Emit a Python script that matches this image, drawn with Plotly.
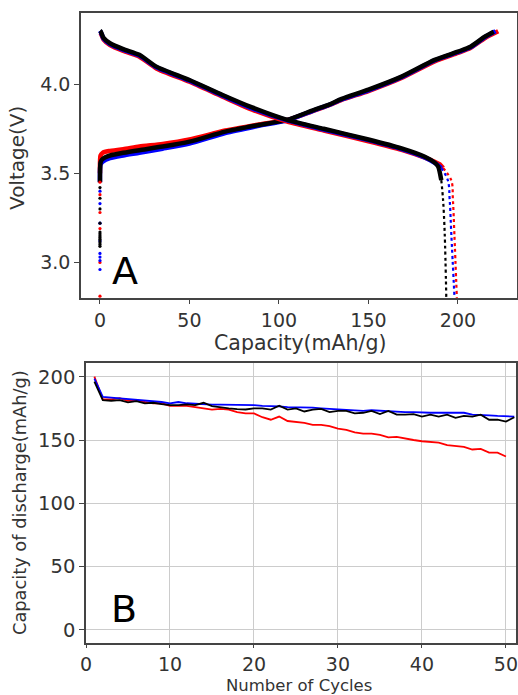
import plotly.graph_objects as go

# ---------------- Panel A : voltage profiles ----------------
# charge curves (capacity mAh/g, voltage V)
chg_cap_red = [0, 0.3, 1.5, 5, 13, 22, 35, 50, 70, 88, 104.6, 120, 128, 135, 150, 168.5, 187, 200, 207, 215, 222.5]
chg_v_red = [3.50, 3.60, 3.615, 3.625, 3.635, 3.65, 3.665, 3.69, 3.74, 3.773, 3.80, 3.853, 3.882, 3.912, 3.962, 4.035, 4.128, 4.176, 4.204, 4.258, 4.297]
chg_cap_blue = [0, 0.3, 1.5, 5.6, 13, 22, 35, 50, 70, 88, 104.6, 120, 128, 135, 150, 168.5, 187, 200, 207, 215, 221]
chg_v_blue = [3.45, 3.55, 3.565, 3.585, 3.60, 3.615, 3.638, 3.667, 3.726, 3.765, 3.797, 3.855, 3.884, 3.915, 3.966, 4.04, 4.134, 4.18, 4.207, 4.264, 4.297]
chg_cap_black = [0, 0.3, 1, 3, 5.6, 13, 22, 35, 50, 70, 88, 104.6, 120, 128, 135, 150, 168.5, 187, 200, 207, 215, 220]
chg_v_black = [3.45, 3.56, 3.575, 3.59, 3.60, 3.615, 3.63, 3.65, 3.678, 3.734, 3.77, 3.80, 3.858, 3.886, 3.918, 3.97, 4.043, 4.137, 4.183, 4.21, 4.267, 4.295]
# sparse points at the very start of charge (capacity 0)
start_v_red = [2.81, 3.00, 3.19, 3.28, 3.38, 3.45]
start_v_blue = [2.96, 3.01, 3.03, 3.05, 3.12, 3.22, 3.33, 3.40]
start_v_black = [3.09, 3.10, 3.11, 3.12, 3.13, 3.14, 3.15, 3.16, 3.17, 3.22, 3.30, 3.36, 3.42]

# discharge curves
dis_cap_red = [0, 0.5, 2, 5.6, 13, 22, 31.5, 50, 68.5, 85, 104.6, 125, 150, 168.5, 181.5, 187, 190, 191.7]
dis_v_red = [4.29, 4.285, 4.25, 4.22, 4.187, 4.155, 4.089, 4.014, 3.93, 3.857, 3.79, 3.74, 3.68, 3.632, 3.588, 3.565, 3.55, 3.53]
dis_cap_blue = [0, 0.5, 2, 5.6, 13, 22, 31.5, 50, 68.5, 85, 104.6, 125, 150, 168.5, 181.5, 187, 189.5, 190.7]
dis_v_blue = [4.30, 4.292, 4.256, 4.226, 4.193, 4.161, 4.095, 4.02, 3.936, 3.864, 3.797, 3.746, 3.686, 3.636, 3.589, 3.558, 3.54, 3.53]
dis_cap_black = [0, 0.5, 2, 5.6, 13, 22, 31.5, 50, 68.5, 85, 104.6, 125, 150, 168.5, 181.5, 187, 189, 190.7]
dis_v_black = [4.30, 4.295, 4.26, 4.23, 4.197, 4.165, 4.099, 4.024, 3.94, 3.87, 3.80, 3.75, 3.69, 3.64, 3.593, 3.56, 3.537, 3.462]
# end-of-discharge tails
tail_cap_red = [191.7, 196.3, 197.2, 198.0, 199.4]
tail_v_red = [3.53, 3.46, 3.35, 3.16, 2.80]
tail_cap_blue = [190.7, 194.4, 195.4, 196.3, 198.1]
tail_v_blue = [3.53, 3.46, 3.35, 3.16, 2.80]
tail_cap_black = [190.7, 191.7, 192.6, 193.5]
tail_v_black = [3.462, 3.35, 3.164, 2.80]

# ---------------- Panel B : cycling ----------------
cycles_red = list(range(1, 51))
cap_red = [200, 182, 182, 183, 181, 181.5, 180, 179, 179, 177, 177, 177, 176, 175, 174, 174.5, 174, 172, 171, 171,
           168, 166, 168.5, 165, 164.5, 163.5, 162, 162, 161, 159, 158, 156, 155, 155, 154, 152, 152.5, 151, 150, 149,
           148.5, 148, 146, 145, 144.5, 142.5, 143, 140, 140, 137]
cycles_blue = list(range(1, 52))
cap_blue = [198.5, 184, 183.5, 183, 182, 182, 181.5, 181, 180, 179, 180, 179, 178.5, 178.5, 178, 178, 178, 177.5, 177.5, 177.5,
            177, 177, 176.5, 176, 176, 175.5, 175.5, 175, 174.5, 174, 174, 173.5, 173, 173.5, 173, 172.5, 172, 172, 172, 171.5,
            171.5, 171.5, 171.5, 171, 171.5, 170, 170, 169.5, 169, 168.5, 168.5]
cycles_black = list(range(1, 52))
cap_black = [196, 181.5, 181, 181.5, 179.7, 180.7, 178.9, 179.4, 178.4, 177.6, 177.6, 178.1, 177.6, 179.4, 176.8, 175.7, 174.9, 174.4, 174.1, 174.9,
             175, 174, 177, 174, 175, 172.5, 174, 174.5, 172, 173, 173, 171, 171.5, 173, 170.5, 173, 170, 170, 170.5, 168.5,
             170, 168.5, 170, 167.5, 169, 168.5, 170, 166, 166, 164.5, 168]

RED, BLUE, BLACK = "#ff0000", "#0000ff", "#000000"
FONT = "DejaVu Sans"

fig = go.Figure()

# Panel A traces (red first, then blue, black on top)
for cx, vy, col in [(chg_cap_red, chg_v_red, RED), (chg_cap_blue, chg_v_blue, BLUE), (chg_cap_black, chg_v_black, BLACK)]:
    fig.add_trace(go.Scatter(x=cx, y=vy, mode="lines", line=dict(color=col, width=4.5, shape="spline", smoothing=0.6),
                             xaxis="x", yaxis="y", showlegend=False))
for cx, vy, col in [(dis_cap_red, dis_v_red, RED), (dis_cap_blue, dis_v_blue, BLUE), (dis_cap_black, dis_v_black, BLACK)]:
    fig.add_trace(go.Scatter(x=cx, y=vy, mode="lines", line=dict(color=col, width=4.5, shape="spline", smoothing=0.6),
                             xaxis="x", yaxis="y", showlegend=False))
for cx, vy, col in [(tail_cap_red, tail_v_red, RED), (tail_cap_blue, tail_v_blue, BLUE), (tail_cap_black, tail_v_black, BLACK)]:
    fig.add_trace(go.Scatter(x=cx, y=vy, mode="lines", line=dict(color=col, width=2.2, dash="dot", shape="spline"),
                             xaxis="x", yaxis="y", showlegend=False))
for vy, col in [(start_v_red, RED), (start_v_blue, BLUE), (start_v_black, BLACK)]:
    fig.add_trace(go.Scatter(x=[0] * len(vy), y=vy, mode="markers", marker=dict(color=col, size=3.2),
                             xaxis="x", yaxis="y", showlegend=False))

# Panel B traces
for cx, cy, col in [(cycles_red, cap_red, RED), (cycles_blue, cap_blue, BLUE), (cycles_black, cap_black, BLACK)]:
    fig.add_trace(go.Scatter(x=cx, y=cy, mode="lines", line=dict(color=col, width=1.8),
                             xaxis="x2", yaxis="y2", showlegend=False))

W, H = 518, 695


def axis_common(size, ticklen=5):
    return dict(showline=True, mirror=True, linecolor="#444444", linewidth=1.6, ticks="outside", ticklen=ticklen,
                tickwidth=1.2, tickcolor="#444444", zeroline=False, automargin=False,
                ticklabeloverflow="allow",
                tickfont=dict(family=FONT, size=size, color="#333333"))


fig.update_layout(
    width=W, height=H, margin=dict(l=0, r=0, t=0, b=0),
    paper_bgcolor="white", plot_bgcolor="white", showlegend=False,
    xaxis=dict(domain=[81 / W, 517 / W], range=[-10.6, 233], tickvals=[0, 50, 100, 150, 200],
               showgrid=False, anchor="y", **axis_common(19, 4)),
    yaxis=dict(domain=[1 - 298 / H, 1 - 13 / H], range=[2.8, 4.4], tickvals=[3.0, 3.5, 4.0],
               ticktext=["3.0", "3.5", "4.0"], showgrid=False, anchor="x", **axis_common(19)),
    xaxis2=dict(domain=[86 / W, 516 / W], range=[0, 51.2], tickvals=[0, 10, 20, 30, 40, 50],
                showgrid=True, gridcolor="#cccccc", gridwidth=1, anchor="y2", **axis_common(19, 3)),
    yaxis2=dict(domain=[1 - 643 / H, 1 - 363 / H], range=[-10.3, 210.8], tickvals=[0, 50, 100, 150, 200],
                showgrid=True, gridcolor="#cccccc", gridwidth=1, anchor="x2", **axis_common(19.5)),
)


def ann(text, x, y, size, angle=0, color="#333333"):
    fig.add_annotation(text=text, x=x / W, y=1 - y / H, xref="paper", yref="paper", showarrow=False,
                       textangle=angle, font=dict(family=FONT, size=size, color=color),
                       xanchor="center", yanchor="middle", borderpad=0)


ann("Voltage(V)", 17, 158, 20, -90)
ann("Capacity(mAh/g)", 300, 343, 20.5)
ann("Capacity of discharge(mAh/g)", 19, 503, 17.8, -90)
ann("Number of Cycles", 299, 685.5, 16.5)
ann("A", 125, 271, 38, color="#000000")
ann("B", 124, 609, 38, color="#000000")

fig.write_html("out.html")
